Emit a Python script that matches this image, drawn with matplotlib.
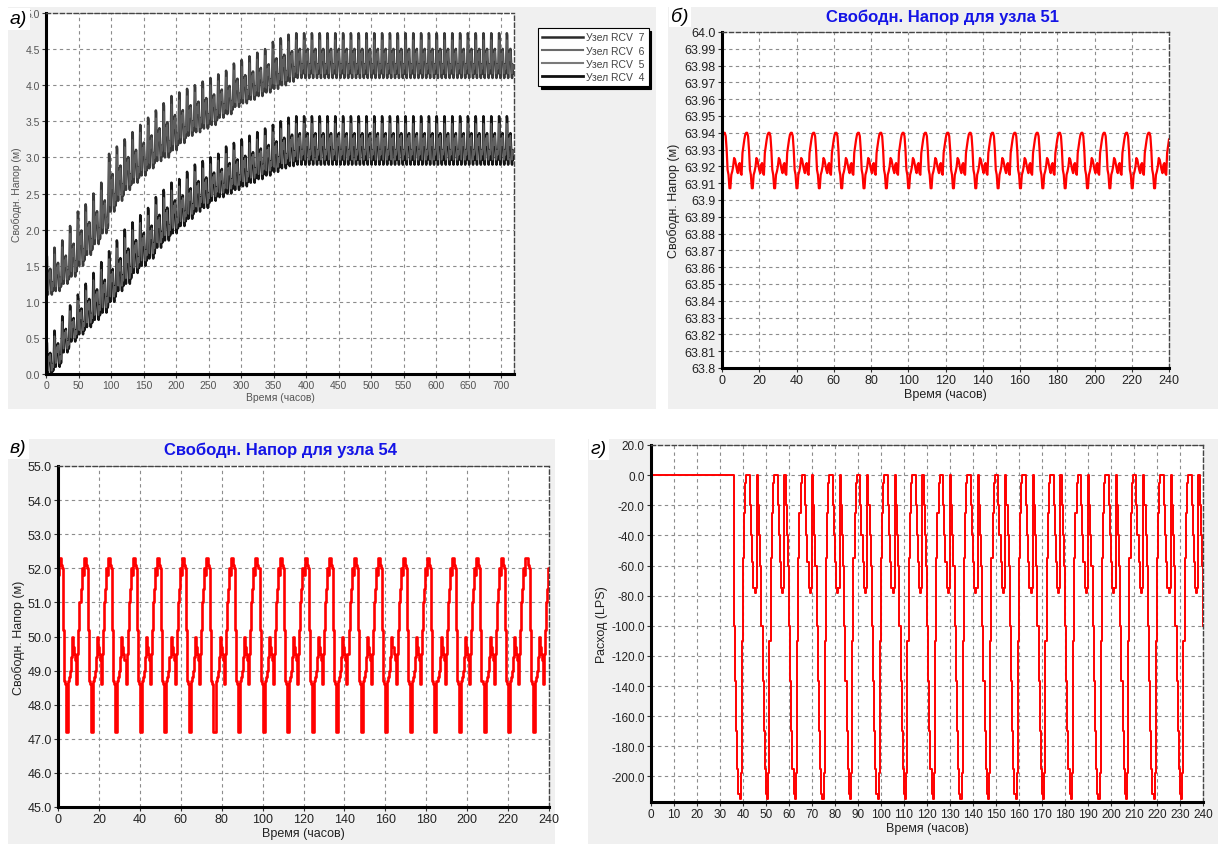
import numpy as np
import matplotlib
matplotlib.use("Agg")
import matplotlib.pyplot as plt
from matplotlib.patches import Rectangle
from matplotlib.lines import Line2D

plt.rcParams['font.family'] = ['Liberation Sans', 'DejaVu Sans']

W, H = 1218, 845
STEP = 0.5          # шаг по времени, ч
CYCLE = 12          # период колебаний, ч

# --- а) узлы RCV 7..4, 720 ч: границы каждого 12-часового цикла
upper_low = [1.1, 1.15, 1.25, 1.35, 1.5, 1.65, 1.8, 1.95, 2.25, 2.4, 2.55, 2.65,
             2.75, 2.85, 2.95, 3.0, 3.1, 3.2, 3.3, 3.35, 3.4, 3.45, 3.55, 3.6,
             3.7, 3.75, 3.8, 3.85, 3.9, 3.95, 4.0, 4.05] + [4.1] * 28
upper_high = [1.65, 1.75, 1.85, 2.05, 2.25, 2.35, 2.5, 2.65, 3.05, 3.15, 3.25, 3.35,
              3.45, 3.55, 3.65, 3.75, 3.85, 3.9, 3.95, 4.0, 4.05, 4.1, 4.15, 4.2,
              4.3, 4.35, 4.4, 4.45, 4.5, 4.6, 4.65, 4.7] + [4.72] * 28
lower_low = [0.0, 0.1, 0.3, 0.45, 0.55, 0.65, 0.75, 0.85, 1.0, 1.15, 1.25, 1.4,
             1.5, 1.6, 1.75, 1.85, 1.95, 2.05, 2.15, 2.25, 2.3, 2.4, 2.45, 2.5,
             2.55, 2.6, 2.65, 2.7, 2.75, 2.8, 2.85, 2.88] + [2.9] * 28
lower_high = [0.45, 0.6, 0.8, 0.95, 1.1, 1.25, 1.4, 1.55, 1.7, 1.85, 2.0, 2.1,
              2.2, 2.3, 2.45, 2.55, 2.65, 2.7, 2.8, 2.9, 2.95, 3.0, 3.05, 3.15,
              3.2, 3.25, 3.3, 3.35, 3.4, 3.45, 3.5, 3.55] + [3.57] * 28
# форма цикла (0 - минимум, 1 - максимум), шаг 0.5 ч
shape_dark = [0.2, 0.55, 1.0, 0.95, 0.4, 0.1, 0.0, 0.15, 0.45, 0.6, 0.5, 0.35,
              0.45, 0.65, 0.5, 0.3, 0.15, 0.05, 0.0, 0.1, 0.3, 0.2, 0.1, 0.15]
shape_light = [0.3, 0.5, 0.85, 0.8, 0.45, 0.2, 0.1, 0.2, 0.4, 0.55, 0.5, 0.4,
               0.45, 0.6, 0.5, 0.35, 0.2, 0.1, 0.1, 0.15, 0.3, 0.25, 0.2, 0.25]
rcv_labels = ['Узел RCV  7', 'Узел RCV  6', 'Узел RCV  5', 'Узел RCV  4']

# --- б) узел 51, один 12-часовой цикл
head_51 = [63.936, 63.939, 63.940, 63.940, 63.938, 63.930, 63.918, 63.915,
           63.907, 63.907, 63.915, 63.917, 63.920, 63.925, 63.924, 63.921,
           63.918, 63.916, 63.921, 63.922, 63.916, 63.915, 63.928, 63.932]
ticks_51 = ['63.8', '63.81', '63.82', '63.83', '63.84', '63.85', '63.86', '63.87',
            '63.88', '63.89', '63.9', '63.91', '63.92', '63.93', '63.94', '63.95',
            '63.96', '63.97', '63.98', '63.99', '64.0']

# --- в) узел 54, один 12-часовой цикл
head_54 = [51.8, 52.3, 52.3, 52.1, 52.0, 50.2, 48.7, 48.6, 47.2, 47.2, 48.7, 48.8,
           49.0, 49.4, 50.0, 49.7, 49.5, 49.3, 48.6, 49.5, 50.2, 51.0, 51.4, 52.0]

# --- г) расход, ноль до 36 ч, затем 12-часовой цикл
flow_start = 36
flow_cycle = [-100, -137, -170, -195, -212, -215, -198, -110, -55, -25, -5, 0,
              0, 0, -20, -40, -58, -75, -78, -75, 0, -20, -40, -60]


def tile(cycle, hours):
    n = int(hours / CYCLE)
    y = np.tile(cycle, n)
    y = np.append(y, cycle[0])
    return np.arange(len(y)) * STEP, y


def rcv_series(low, high, shape):
    y = np.concatenate([lo + (hi - lo) * np.array(shape) for lo, hi in zip(low, high)])
    return np.arange(len(y)) * STEP, y


def px_axes(fig, left, top, right, bottom):
    return fig.add_axes([left / W, 1 - bottom / H, (right - left) / W, (bottom - top) / H])


def panel_bg(fig, left, top, right, bottom):
    fig.patches.append(Rectangle((left / W, 1 - bottom / H), (right - left) / W,
                                 (bottom - top) / H, transform=fig.transFigure,
                                 facecolor='#f0f0f0', edgecolor='none', zorder=-5))


def style(ax, fs, color='#222222'):
    ax.set_facecolor('white')
    for s in ['left', 'bottom']:
        ax.spines[s].set_linewidth(2.2)
        ax.spines[s].set_color('black')
    for s in ['top', 'right']:
        ax.spines[s].set_linewidth(1)
        ax.spines[s].set_color('#444444')
        ax.spines[s].set_linestyle((0, (3, 2)))
    ax.grid(True, color='#8c8c8c', linestyle=(0, (3, 3)), linewidth=0.8)
    ax.set_axisbelow(True)
    ax.tick_params(labelsize=fs, length=3, width=0.8, pad=1.5, colors='#333333',
                   labelcolor=color)


def panel_label(fig, x, y, s):
    fig.text(x / W, 1 - y / H, s, fontsize=14, style='italic', va='center', ha='left',
             bbox=dict(facecolor='white', edgecolor='none', pad=1.5))


fig = plt.figure(figsize=(W / 100, H / 100), dpi=100)
fig.patch.set_facecolor('white')

# ---------- а)
panel_bg(fig, 8, 8, 656, 410)
ax = px_axes(fig, 46, 14, 514, 375)
style(ax, 7.5, '#555555')
t, y7 = rcv_series(upper_low, upper_high, shape_dark)
_, y6 = rcv_series(upper_low, upper_high, shape_light)
_, y5 = rcv_series(lower_low, lower_high, shape_light)
_, y4 = rcv_series(lower_low, lower_high, shape_dark)
ax.plot(t, y7, color='#3a3a3a', lw=1.8)
ax.plot(t, y6, color='#5e5e5e', lw=1.0)
ax.plot(t, y4, color='#151515', lw=1.8)
ax.plot(t, y5, color='#606060', lw=1.0)
ax.set_xlim(0, 720)
ax.set_ylim(0, 5)
ax.set_xticks(np.arange(0, 701, 50))
ax.set_yticks(np.arange(0, 5.01, 0.5))
ax.set_yticklabels([f'{v:.1f}' for v in np.arange(0, 5.01, 0.5)])
ax.set_xlabel('Время (часов)', fontsize=7.5, color='#555555', labelpad=1)
ax.set_ylabel('Свободн. Напор (м)', fontsize=7.5, color='#555555', labelpad=2)
handles = [Line2D([], [], color='#2a2a2a', lw=1.8), Line2D([], [], color='#6a6a6a', lw=1.5),
           Line2D([], [], color='#7a7a7a', lw=1.5), Line2D([], [], color='#111111', lw=2)]
leg = ax.legend(handles, rcv_labels, loc='upper left', bbox_to_anchor=(533 / W, 1 - 24 / H),
                bbox_transform=fig.transFigure, fontsize=7.5, handlelength=3.9,
                handletextpad=0.3, labelspacing=0.3, borderpad=0.4, fancybox=False,
                framealpha=1, edgecolor='black', shadow={'color': 'black', 'alpha': 1})
leg.get_frame().set_linewidth(0.8)
for txt in leg.get_texts():
    txt.set_color('#444444')
    txt.set_fontstyle('normal')
panel_label(fig, 10, 20, 'а)')

# ---------- б)
panel_bg(fig, 668, 8, 1218, 410)
ax = px_axes(fig, 722, 33, 1169, 369)
style(ax, 9)
t, y = tile(head_51, 240)
ax.plot(t, y, color='#ff0000', lw=1.6)
ax.set_xlim(0, 240)
ax.set_ylim(63.8, 64.0)
ax.set_xticks(np.arange(0, 241, 20))
ax.set_yticks(np.linspace(63.8, 64.0, 21))
ax.set_yticklabels(ticks_51)
ax.set_xlabel('Время (часов)', fontsize=9, color='#222222', labelpad=1)
ax.set_ylabel('Свободн. Напор (м)', fontsize=9, color='#222222', labelpad=3)
fig.text(943 / W, 1 - 17 / H, 'Свободн. Напор для узла 51', fontsize=12, weight='bold',
         color='#1414e6', ha='center', va='center')
panel_label(fig, 671, 17, 'б)')

# ---------- в)
panel_bg(fig, 8, 440, 555, 845)
ax = px_axes(fig, 58, 467, 549, 808)
style(ax, 9)
t, y = tile(head_54, 240)
ax.plot(t, y, color='#ff0000', lw=1.9, drawstyle='steps-post')
ax.set_xlim(0, 240)
ax.set_ylim(45, 55)
ax.set_xticks(np.arange(0, 241, 20))
ax.set_yticks(np.arange(45, 55.1, 1))
ax.set_yticklabels([f'{v:.1f}' for v in np.arange(45, 55.1, 1)])
ax.set_xlabel('Время (часов)', fontsize=9, color='#222222', labelpad=1)
ax.set_ylabel('Свободн. Напор (м)', fontsize=9, color='#222222', labelpad=2)
fig.text(281 / W, 1 - 450 / H, 'Свободн. Напор для узла 54', fontsize=12, weight='bold',
         color='#1414e6', ha='center', va='center')
panel_label(fig, 10, 449, 'в)')

# ---------- г)
panel_bg(fig, 588, 440, 1218, 845)
ax = px_axes(fig, 651, 446, 1203, 803)
style(ax, 8.5)
t_c, y_c = tile(flow_cycle, 240 - flow_start)
t = np.concatenate([np.arange(0, flow_start, STEP), t_c + flow_start])
y = np.concatenate([np.zeros(int(flow_start / STEP)), y_c])
ax.plot(t, y, color='#ff0000', lw=1.4, drawstyle='steps-post')
ax.set_xlim(0, 240)
ax.set_ylim(-217, 20)
ax.set_xticks(np.arange(0, 241, 10))
ax.set_yticks(np.arange(-200, 21, 20))
ax.set_yticklabels([f'{v:.1f}' for v in np.arange(-200, 21, 20)])
ax.set_xlabel('Время (часов)', fontsize=9, color='#222222', labelpad=1)
ax.set_ylabel('Расход (LPS)', fontsize=9, color='#222222', labelpad=2)
panel_label(fig, 591, 450, 'г)')

fig.savefig('out.png', dpi=100)
